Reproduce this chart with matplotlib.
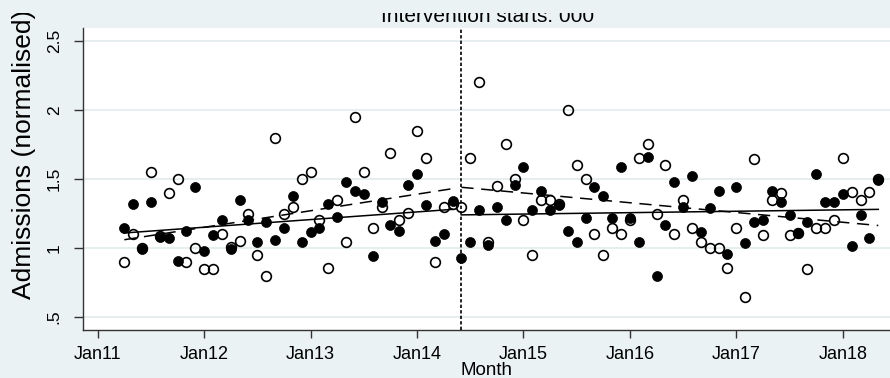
import numpy as np
import matplotlib
matplotlib.use("Agg")
import matplotlib.pyplot as plt
from matplotlib.patches import Rectangle

plt.rcParams['font.family'] = ['Liberation Sans', 'DejaVu Sans']

# months counted from Jan 2011 (0 = Jan11)
months = np.arange(3, 89)

# filled circles
adm_filled = [1.147, 1.317, 0.99, 1.33, 1.08, 1.075, 0.905, 1.125, 1.44, 0.98,
              1.094, 1.20, 0.99, 1.35, 1.20, 1.04, 1.186, 1.056, 1.147, 1.375,
              1.04, 1.118, 1.143, 1.32, 1.225, 1.48, 1.41, 1.39, 0.94, 1.335,
              1.167, 1.123, 1.46, 1.536, 1.31, 1.05, 1.10, 1.34, 0.925, 1.04,
              1.275, 1.02, 1.30, 1.20, 1.46, 1.59, 1.275, 1.41, 1.275, 1.31,
              1.125, 1.046, 1.215, 1.44, 1.38, 1.215, 1.59, 1.215, 1.04, 1.66,
              0.797, 1.167, 1.48, 1.30, 1.52, 1.118, 1.29, 1.41, 0.96, 1.44,
              1.034, 1.19, 1.20, 1.415, 1.333, 1.237, 1.106, 1.19, 1.536, 1.333,
              1.333, 1.39, 1.014, 1.237, 1.07, 1.49]

# hollow circles
adm_hollow = [0.896, 1.10, 1.00, 1.55, 1.09, 1.40, 1.50, 0.896, 1.00, 0.85,
              0.85, 1.10, 1.01, 1.05, 1.25, 0.95, 0.795, 1.80, 1.25, 1.30,
              1.50, 1.55, 1.20, 0.853, 1.35, 1.046, 1.95, 1.55, 1.143, 1.30,
              1.69, 1.20, 1.254, 1.85, 1.65, 0.896, 1.30, 1.32, 1.30, 1.65,
              2.20, 1.04, 1.447, 1.754, 1.50, 1.20, 0.95, 1.35, 1.35, 1.32,
              2.00, 1.60, 1.50, 1.10, 0.95, 1.143, 1.10, 1.20, 1.65, 1.75,
              1.246, 1.60, 1.10, 1.35, 1.143, 1.046, 1.00, 1.00, 0.853, 1.145,
              0.647, 1.647, 1.097, 1.348, 1.40, 1.097, 1.11, 0.85, 1.145, 1.145,
              1.20, 1.65, 1.406, 1.348, 1.406, 1.50]

# segmented trend lines (pre / post intervention)
intervention = 41
pre_months = [3, 40]
post_months = [41, 88]
trend_filled_pre = [1.109, 1.28]
trend_filled_post = [1.24, 1.28]
trend_hollow_pre = [1.06, 1.43]
trend_hollow_post = [1.44, 1.163]

tick_months = [0, 12, 24, 36, 48, 60, 72, 84]
tick_labels = ["Jan11", "Jan12", "Jan13", "Jan14", "Jan15", "Jan16", "Jan17", "Jan18"]
ytick_vals = [0.5, 1, 1.5, 2, 2.5]
ytick_labels = [".5", "1", "1.5", "2", "2.5"]

bg = "#eaf2f3"
W, H = 890, 378

fig = plt.figure(figsize=(W / 100, H / 100), dpi=100, facecolor=bg)
ax = fig.add_axes([82.7 / W, 48 / H, (W - 82.7) / W, 302 / H])
ax.set_facecolor("white")

for v in ytick_vals:
    ax.axhline(v, color="#e3ebee", lw=1.2, zorder=0)

ax.plot(months, adm_hollow, "o", ms=7, mfc="none", mec="black", mew=1.2, zorder=2)
ax.plot(months, adm_filled, "o", ms=7.2, mfc="black", mec="black", mew=0.5, zorder=3)

ax.plot(pre_months, trend_filled_pre, "-", color="black", lw=1.1, zorder=4)
ax.plot(post_months, trend_filled_post, "-", color="black", lw=1.1, zorder=4)
ax.plot(pre_months, trend_hollow_pre, color="black", lw=1.1, dashes=(8, 5), zorder=4)
ax.plot(post_months, trend_hollow_post, color="black", lw=1.1, dashes=(8, 5), zorder=4)

ax.axvline(intervention, color="black", lw=1.2, linestyle=(0, (2, 1.3)), zorder=5)

ax.set_xlim(-1.69, 89.32)
ax.set_ylim(0.406, 2.594)

ax.set_xticks(tick_months)
ax.set_xticklabels(tick_labels, fontsize=13)
ax.set_yticks(ytick_vals)
ax.set_yticklabels(ytick_labels, fontsize=12.5, rotation=90, va="center")
ax.tick_params(axis="x", length=6, width=1, color="#333333", pad=5.5)
ax.tick_params(axis="y", length=6.5, width=1, color="#333333", pad=8.5)

for s in ["top", "right"]:
    ax.spines[s].set_visible(False)
for s in ["left", "bottom"]:
    ax.spines[s].set_color("#333333")
    ax.spines[s].set_linewidth(1)

ax.set_xlabel("Month", fontsize=13.5, labelpad=-1)
fig.text(24 / W, 1 - 154 / H, "Admissions (normalised)", rotation=90,
         ha="center", va="center", fontsize=19)

# title, top part hidden behind a strip of background
fig.text(488 / W, 1 - 21.7 / H, "Intervention starts: 000", ha="center",
         va="baseline", fontsize=15, zorder=3)
fig.patches.append(Rectangle((0, 1 - 13 / H), 1, 13 / H, transform=fig.transFigure,
                             facecolor=bg, edgecolor="none", zorder=10))

fig.savefig("out.png", dpi=100, facecolor=bg)
